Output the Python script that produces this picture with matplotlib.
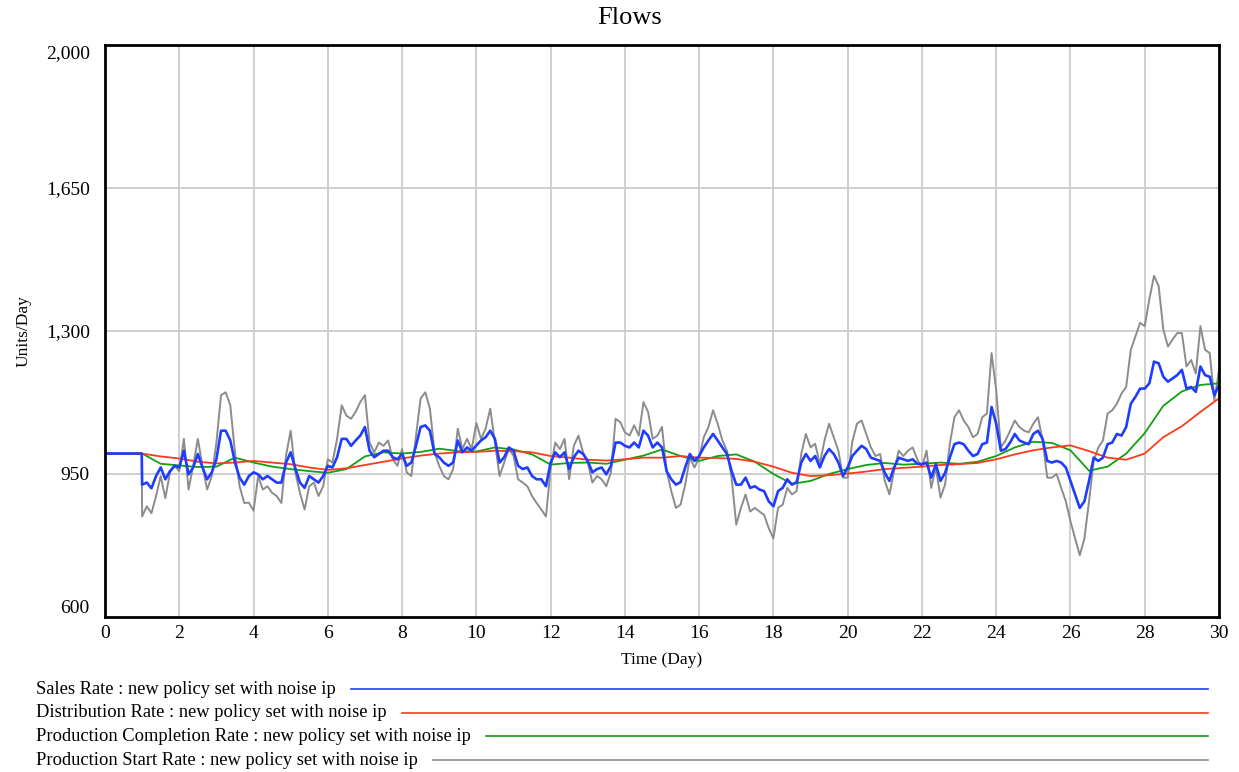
import numpy as np
import matplotlib.pyplot as plt

plt.rcParams['font.family'] = ['Liberation Serif', 'DejaVu Serif']

# time grid of the noisy series (flat at 1000 until day 1)
t_noisy = np.concatenate([[0.0, 0.99], np.arange(1.0, 30.0001, 0.125)])

sales = [1000, 1000,
         924, 929, 915, 945, 966, 937, 957, 970, 966, 1007, 949, 966, 999, 966, 937, 954,
         986, 1056, 1056, 1032, 978, 941, 924, 945, 954, 949, 937, 945, 937, 929, 929, 978,
         1003, 964, 929, 916, 945, 937, 929, 945, 970, 966, 991, 1036, 1036, 1019, 1032, 1044,
         1065, 1007, 991, 999, 1007, 1007, 991, 986, 999, 970, 978, 1019, 1065, 1069, 1056, 999,
         991, 978, 970, 978, 1032, 1003, 1015, 1007,
         1020, 1032, 1040, 1056, 1036, 978, 991, 1015, 1007, 970, 962, 966, 945, 937, 937, 920,
         978, 1003, 991, 1003, 962, 991, 1007, 999, 982, 954, 962, 966, 949, 970, 1027, 1027,
         1019, 1015, 1027, 1015, 1056, 1044, 1015, 1027,
         1015, 957, 937, 924, 930, 966, 999, 982, 994, 1015, 1032, 1048, 1032, 1015, 999, 957,
         924, 924, 941, 916, 920, 912, 908, 883, 871, 908, 916, 937, 924, 930, 978, 999,
         982, 994, 966, 994, 1011, 999, 978, 945,
         966, 994, 1007, 1019, 1011, 990, 986, 982, 953, 933, 966, 990, 986, 982, 986, 975,
         974, 978, 941, 974, 933, 953, 990, 1023, 1027, 1023, 1007, 994, 999, 1023, 1027, 1114,
         1073, 1007, 1011, 1027, 1048, 1032, 1027, 1023,
         1048, 1056, 1036, 982, 978, 982, 978, 966, 933, 900, 867, 883, 933, 990, 982, 990,
         1023, 1027, 1048, 1044, 1065, 1122, 1139, 1159, 1159, 1172, 1225, 1221, 1188, 1176, 1184, 1192,
         1205, 1159, 1163, 1151, 1213, 1192, 1188, 1143, 1168]

prod_start = [1000, 1000,
              846, 871, 854, 896, 945, 891, 954, 970, 957, 1036, 912, 970, 1036, 970, 912, 945,
              1027, 1143, 1150, 1118, 1002, 920, 879, 880, 860, 945, 912, 920, 904, 896, 879, 995,
              1056, 954, 904, 863, 920, 929, 896, 920, 986, 978, 1036, 1118, 1093, 1085, 1102, 1126,
              1143, 1027, 1003, 1027, 1019, 1032, 986, 970, 1011, 954, 945, 1044, 1135, 1150, 1110, 1003,
              970, 945, 937, 962, 1061, 1011, 1036, 1011,
              1075, 1036, 1061, 1110, 1027, 945, 978, 1011, 995, 937, 929, 920, 896, 879, 863, 846,
              962, 1027, 1011, 1036, 937, 1019, 1044, 1003, 978, 929, 945, 937, 920, 954, 1085, 1077,
              1052, 1044, 1069, 1044, 1126, 1102, 1036, 1044,
              1065, 957, 908, 867, 875, 924, 990, 966, 990, 1040, 1065, 1106, 1073, 1032, 1007, 941,
              826, 867, 900, 858, 867, 858, 850, 817, 792, 867, 875, 916, 900, 908, 999, 1048,
              1015, 1024, 974, 1032, 1073, 1040, 1007, 941,
              941, 1029, 1073, 1081, 1048, 1015, 994, 999, 933, 900, 958, 1007, 994, 1007, 1015, 986,
              966, 1007, 916, 966, 892, 925, 1023, 1089, 1106, 1081, 1065, 1040, 1048, 1089, 1098, 1246,
              1155, 1015, 1032, 1056, 1081, 1065, 1056, 1052,
              1073, 1089, 1032, 941, 941, 950, 916, 883, 834, 792, 751, 792, 883, 982, 1015, 1032,
              1098, 1106, 1122, 1147, 1163, 1254, 1287, 1320, 1312, 1378, 1435, 1410, 1304, 1262, 1279, 1295,
              1295, 1213, 1229, 1196, 1312, 1254, 1246, 1130, 1205]

# smooth series, read every half day
t_smooth = [0] + list(np.arange(1.0, 30.0001, 0.5))
distribution = [1000, 1000, 993, 988, 980, 976, 978, 982, 978, 974, 966, 960, 964, 972, 980, 988,
                995, 1000, 1003, 1004, 1007, 1006, 1003, 994, 990, 985, 983, 986, 990, 990,
                994, 990, 989, 987, 980, 968, 953, 945, 947, 951, 956, 962, 965, 968, 972, 974,
                977, 986, 998, 1008, 1015, 1020, 1006, 990, 985, 1000, 1040, 1067, 1102, 1135]
completion = [1000, 1000, 975, 971, 967, 968, 990, 978, 968, 962, 957, 953, 962, 993, 1003, 1000,
              1004, 1012, 1006, 1005, 1015, 1010, 998, 973, 977, 978, 975, 985, 995, 1010,
              994, 982, 994, 998, 980, 950, 926, 933, 950, 962, 972, 977, 973, 975, 978, 975,
              980, 994, 1015, 1029, 1026, 1008, 958, 968, 1000, 1050, 1117, 1152, 1168, 1172]

labels = ["Sales Rate : new policy set with noise ip",
          "Distribution Rate : new policy set with noise ip",
          "Production Completion Rate : new policy set with noise ip",
          "Production Start Rate : new policy set with noise ip"]
colors = ["#1f3dff", "#ff3a1a", "#10a010", "#8c8c8c"]

W, H = 1239, 772
fig = plt.figure(figsize=(W / 100, H / 100), dpi=100)
ax = fig.add_axes([105 / W, 1 - 617 / H, (1219 - 105) / W, (617 - 45) / H])

ax.plot(t_noisy, prod_start, color=colors[3], lw=1.4)
ax.plot(t_smooth, completion, color=colors[2], lw=1.3)
ax.plot(t_smooth, distribution, color=colors[1], lw=1.3)
ax.plot(t_noisy, sales, color=colors[0], lw=1.9)

ax.set_xlim(0, 30)
ax.set_ylim(600, 2000)
ax.set_xticks(range(0, 31, 2))
ax.set_yticks([600, 950, 1300, 1650, 2000])
ax.set_yticklabels(["600", "950", "1,300", "1,650", "2,000"])
ytl = ax.get_yticklabels()
ytl[0].set_va('bottom')
ytl[-1].set_va('top')
ax.tick_params(length=0, labelsize=14, pad=11)
ax.tick_params(axis='x', pad=6)
for x in range(2, 30, 2):
    ax.axvline(x, color="#cccccc", lw=1.3, zorder=0)
for y in [950, 1300, 1650]:
    ax.axhline(y, color="#cccccc", lw=1.3, zorder=0)
for s in ax.spines.values():
    s.set_linewidth(2)
    s.set_color("black")

ax.set_xlabel("Time (Day)", fontsize=12.5, labelpad=7)
ax.set_ylabel("Units/Day", fontsize=12.5, labelpad=10)
fig.text(630 / W, 1 - 18 / H, "Flows", fontsize=19, ha='center', va='center')

fig.canvas.draw()
renderer = fig.canvas.get_renderer()
for i, (lab, col) in enumerate(zip(labels, colors)):
    ypx = 689 + i * 23.7
    txt = fig.text(36 / W, 1 - ypx / H, lab, fontsize=13.3, ha='left', va='center')
    bb = txt.get_window_extent(renderer)
    fig.add_artist(plt.Line2D([(bb.x1 + 15) / W, 1208 / W], [1 - ypx / H, 1 - ypx / H],
                              color=col, lw=1.2, transform=fig.transFigure))

fig.savefig("out.png", dpi=100)
plt.close(fig)
